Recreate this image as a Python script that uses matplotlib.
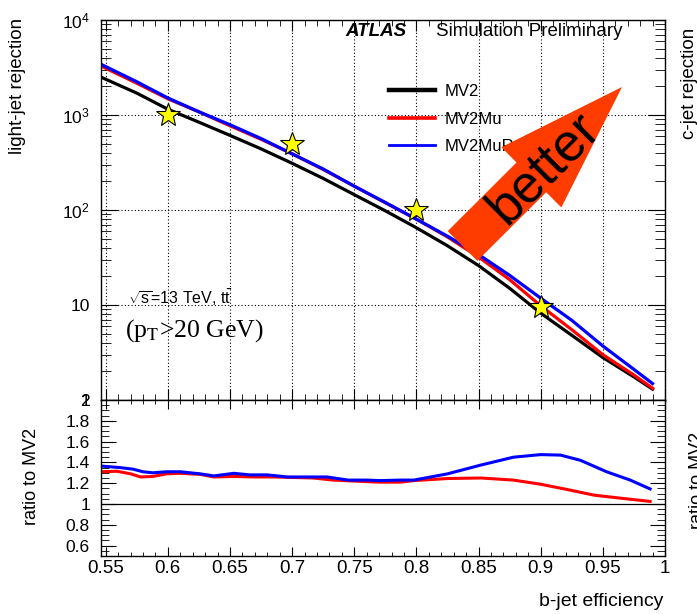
#!/usr/bin/env python3
"""Light-jet rejection vs b-jet efficiency, with ratio panel."""
import matplotlib

matplotlib.use("Agg")
import matplotlib.pyplot as plt
import numpy as np
from matplotlib.patches import Polygon
from matplotlib.ticker import FuncFormatter, LogLocator, MultipleLocator, NullFormatter

# ROC curves (light-jet rejection)
eff = [0.546, 0.575, 0.6, 0.625, 0.65, 0.675, 0.7, 0.725, 0.75, 0.775,
       0.8, 0.825, 0.85, 0.875, 0.9, 0.925, 0.95, 0.975, 0.99]
rej_mv2 = [2510, 1700, 1150, 840, 610, 440, 310, 215, 145, 98,
           65, 42, 26, 15.0, 8.2, 4.8, 2.8, 1.75, 1.3]
rej_mv2mu = [3290, 2160, 1480, 1080, 770, 555, 390, 267, 178, 119,
             80, 52, 32, 18.5, 9.8, 5.5, 3.0, 1.83, 1.33]
rej_mv2murnn = [3430, 2240, 1510, 1080, 790, 565, 390, 270, 178, 120,
                80, 53, 34, 20.5, 11.8, 6.9, 3.7, 2.1, 1.49]

# ratio to MV2
ratio_eff_mu = [0.5462, 0.559, 0.57, 0.578, 0.588, 0.599, 0.61, 0.626, 0.637,
                0.653, 0.669, 0.685, 0.701, 0.717, 0.733, 0.76, 0.771, 0.787,
                0.798, 0.825, 0.852, 0.878, 0.9, 0.921, 0.943, 0.965, 0.988]
ratio_mu = [1.31, 1.315, 1.29, 1.26, 1.265, 1.29, 1.295, 1.285, 1.26,
            1.265, 1.26, 1.26, 1.255, 1.25, 1.23, 1.215, 1.21, 1.21,
            1.225, 1.245, 1.25, 1.23, 1.19, 1.14, 1.085, 1.055, 1.025]
ratio_eff_rnn = [0.5462, 0.5615, 0.572, 0.58, 0.588, 0.599, 0.61, 0.626, 0.637,
                 0.653, 0.666, 0.68, 0.696, 0.712, 0.728, 0.745, 0.76, 0.771,
                 0.787, 0.798, 0.825, 0.852, 0.878, 0.9, 0.916, 0.932, 0.953,
                 0.972, 0.988]
ratio_rnn = [1.365, 1.35, 1.335, 1.31, 1.30, 1.31, 1.31, 1.29, 1.27,
             1.295, 1.28, 1.28, 1.26, 1.26, 1.26, 1.23, 1.23, 1.225,
             1.23, 1.23, 1.29, 1.375, 1.45, 1.475, 1.47, 1.42, 1.31,
             1.23, 1.145]

# reference working points
star_eff = [0.6, 0.7, 0.8, 0.9]
star_rej = [1000, 500, 100, 9.5]

W, H = 697, 614


def fx(px):
    return px / W


def fy(py):
    return 1 - py / H


plt.rcParams["font.family"] = ["Liberation Sans", "DejaVu Sans"]
plt.rcParams["mathtext.fontset"] = "custom"
plt.rcParams["mathtext.rm"] = "Liberation Sans"
plt.rcParams["mathtext.it"] = "Liberation Sans:italic"
plt.rcParams["mathtext.bf"] = "Liberation Sans:bold"
plt.rcParams["axes.linewidth"] = 1.0

fig = plt.figure(figsize=(W / 100, H / 100), dpi=100)
ax = fig.add_axes([fx(101), fy(400), (665 - 101) / W, (400 - 20) / H])
rax = fig.add_axes([fx(101), fy(556), (665 - 101) / W, (556 - 400) / H])

# ---- main panel
ax.plot(eff, rej_mv2, color="black", lw=2.3, label="MV2")
ax.plot(eff, rej_mv2mu, color="red", lw=2.3, label="MV2Mu")
ax.plot(eff, rej_mv2murnn, color="blue", lw=2.3, label="MV2MuRnn")
ax.plot(star_eff, star_rej, ls="none", marker="*", ms=18, mfc="yellow",
        mec="black", mew=0.8, zorder=5, clip_on=False)

ax.set_yscale("log")
ax.set_ylim(1, 1e4)
ax.set_xlim(0.5462, 1.0)
ax.xaxis.set_major_locator(MultipleLocator(0.05))
ax.xaxis.set_minor_locator(MultipleLocator(0.01))
ax.xaxis.set_major_formatter(NullFormatter())
ax.yaxis.set_major_locator(LogLocator(base=10, numticks=10))
ax.yaxis.set_minor_locator(LogLocator(base=10, subs=np.arange(2, 10), numticks=20))
ax.yaxis.set_minor_formatter(NullFormatter())


def logfmt(v, pos):
    if v < 5:
        return "1"
    if v < 50:
        return "10"
    return r"$10^{%d}$" % round(np.log10(v))


ax.yaxis.set_major_formatter(FuncFormatter(logfmt))
ax.grid(True, which="major", color="black", ls=(0, (1, 2)), lw=0.8)
ax.tick_params(which="both", direction="in", top=True, right=True, labelsize=12.5)
ax.tick_params(axis="x", which="major", length=8)
ax.tick_params(axis="x", which="minor", length=4)
ax.tick_params(axis="y", which="major", length=12, pad=8)
ax.tick_params(axis="y", which="minor", length=7)

leg = ax.legend(loc="upper left", bbox_to_anchor=(fx(389), fy(84)),
                bbox_transform=fig.transFigure, frameon=False, fontsize=12,
                handlelength=2.75, handletextpad=0.6, labelspacing=0.75,
                borderpad=0, borderaxespad=0)
leg.get_lines()[0].set_linewidth(3.2)
leg.get_lines()[1].set_linewidth(2.6)
leg.get_lines()[2].set_linewidth(2)

# ---- ratio panel
rax.axhline(1, color="black", lw=0.9)
rax.plot(ratio_eff_mu, ratio_mu, color="red", lw=2.2)
rax.plot(ratio_eff_rnn, ratio_rnn, color="blue", lw=2.2)
rax.set_xlim(0.5462, 1.0)
rax.set_ylim(0.5, 2.0)
rax.xaxis.set_major_locator(MultipleLocator(0.05))
rax.xaxis.set_minor_locator(MultipleLocator(0.01))
rax.yaxis.set_major_locator(MultipleLocator(0.2))
rax.yaxis.set_minor_locator(MultipleLocator(0.05))
rax.xaxis.set_major_formatter(FuncFormatter(lambda v, p: "%g" % round(v, 2)))
rax.yaxis.set_major_formatter(FuncFormatter(lambda v, p: "%g" % round(v, 1)))
rax.tick_params(which="both", direction="in", top=True, right=True)
rax.tick_params(axis="x", which="major", length=6.5, labelsize=13.5, pad=3)
rax.tick_params(axis="x", which="minor", length=3)
rax.tick_params(axis="y", which="major", length=11, labelsize=12.5, pad=8)
rax.tick_params(axis="y", which="minor", length=6)

# ---- axis titles
fig.text(fx(18), fy(18), "light-jet rejection", rotation=90, ha="center",
         va="top", fontsize=13.5)
fig.text(fx(32), fy(476), "ratio to MV2", rotation=90, ha="center",
         va="center", fontsize=13)
fig.text(fx(663), fy(602), "b-jet efficiency", ha="right", va="center",
         fontsize=14)
# neighbouring (cropped) plot titles
fig.text(fx(690), fy(28), "c-jet rejection", rotation=90, ha="center",
         va="top", fontsize=13.5)
fig.text(fx(698), fy(480), "ratio to MV2", rotation=90, ha="center",
         va="center", fontsize=13)

# ---- labels in the plot
fig.text(fx(345), fy(32), "ATLAS", weight="bold", style="italic",
         fontsize=13.5, va="center")
fig.text(fx(436), fy(32), "Simulation Preliminary", fontsize=13.5, va="center")
fig.text(fx(128), fy(298), r"$\sqrt{\mathrm{s}}$=13 TeV, $\mathrm{t\bar{t}}$",
         fontsize=11.5, va="center")
fig.text(fx(125), fy(331), r"(p$_{\mathrm{T}}$>20 GeV)",
         family="Liberation Serif", math_fontfamily="stix", fontsize=18.5,
         va="center")

# ---- "better" arrow
tail = np.array([462.5, 246.0])
tip = np.array([622.0, 87.0])
u = (tip - tail) / np.hypot(*(tip - tail))
n = np.array([-u[1], u[0]])
base = tip - u * 128
pts = [tail + n * 21, base + n * 21, base + n * 42.5, tip,
       base - n * 42.5, base - n * 21, tail - n * 21]
pts = [(fx(p[0]), fy(p[1])) for p in pts]
fig.patches.append(Polygon(pts, closed=True, transform=fig.transFigure,
                           facecolor="#ff3c00", edgecolor="none", zorder=10))
fig.text(fx(544), fy(168), "better", rotation=45, rotation_mode="anchor",
         ha="center", va="center", fontsize=38, zorder=11)

fig.savefig("out.png", dpi=100)
